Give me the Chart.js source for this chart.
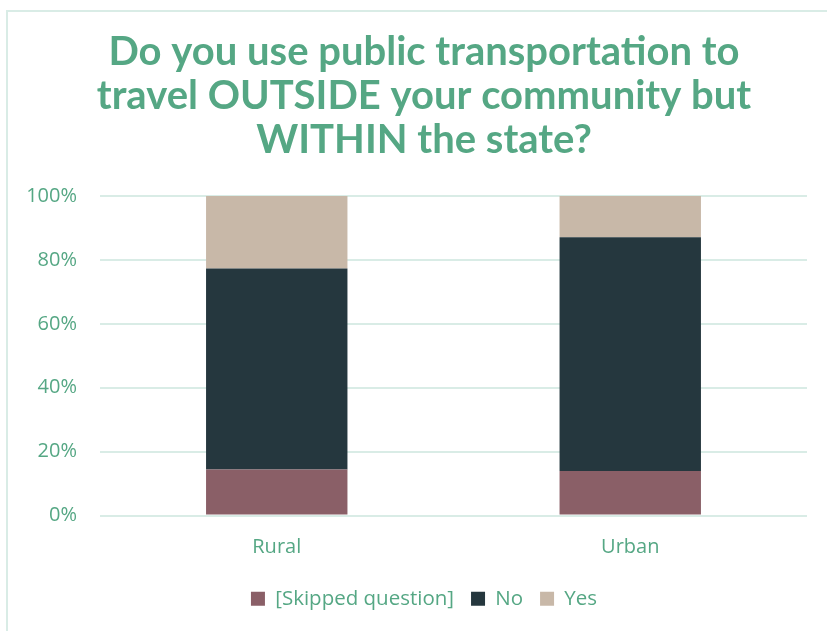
<!DOCTYPE html>
<html>
<head>
<meta charset="utf-8">
<script src="https://cdn.jsdelivr.net/npm/chart.js@4"></script>
<style>
  body { margin: 0; background: #fff; overflow: hidden; }
  #wrap { position: relative; width: 827px; height: 631px; overflow: hidden; }
  #frame { position: absolute; left: 6px; top: 10px; right: -10px; bottom: -10px;
           border-left: 2px solid #d9ece6; border-top: 2px solid #d9ece6; pointer-events: none; }
</style>
</head>
<body>
<div id="wrap">
  <!-- canvas runs past the right edge, like the cropped original -->
  <canvas id="chart" width="848" height="631"></canvas>
  <div id="frame"></div>
</div>
<script>
const categories = ['Rural', 'Urban'];
const skipped = [14.4, 13.9];
const no = [62.9, 73.2];
const yes = [22.7, 12.9];
const yTicks = [0, 20, 40, 60, 80, 100];

const green = '#55a784';

const ctx = document.getElementById('chart').getContext('2d');
new Chart(ctx, {
  type: 'bar',
  data: {
    labels: categories,
    datasets: [
      { label: '[Skipped question]', data: skipped, backgroundColor: '#8a5f67' },
      { label: 'No', data: no, backgroundColor: '#25373e' },
      { label: 'Yes', data: yes, backgroundColor: '#c8b8a8' }
    ]
  },
  options: {
    responsive: false,
    animation: false,
    layout: { padding: { top: 30, right: 0, left: 0, bottom: 12 } },
    datasets: { bar: { categoryPercentage: 1, barPercentage: 0.4 } },
    plugins: {
      title: {
        display: true,
        text: ['Do you use public transportation to', 'travel OUTSIDE your community but', 'WITHIN the state?'],
        color: green,
        font: { family: 'Lato', weight: 'bold', size: 40, lineHeight: 1.1 },
        padding: { top: 0, bottom: 34 }
      },
      legend: {
        position: 'bottom',
        labels: {
          color: green,
          font: { family: 'Open Sans', size: 20.5 },
          boxWidth: 14, boxHeight: 14,
          padding: 17
        }
      },
      tooltip: { enabled: false }
    },
    scales: {
      x: {
        stacked: true,
        grid: { display: false },
        border: { display: false },
        ticks: { color: green, font: { family: 'Open Sans', size: 20 }, padding: 12 }
      },
      y: {
        stacked: true,
        min: 0, max: 100,
        afterFit: s => { s.width = 100; },
        afterBuildTicks: s => { s.ticks = yTicks.map(v => ({ value: v })); },
        grid: { color: '#d9ece6', lineWidth: 2, drawTicks: false },
        border: { display: false },
        ticks: { color: green, font: { family: 'Open Sans', size: 20 }, padding: 23,
                 callback: v => v + '%' }
      },
      // empty right margin so the plot ends where the original does
      yRight: {
        type: 'linear',
        position: 'right',
        afterFit: s => { s.width = 41; },
        grid: { display: false },
        border: { display: false },
        ticks: { display: false }
      }
    }
  }
});
</script>
</body>
</html>
